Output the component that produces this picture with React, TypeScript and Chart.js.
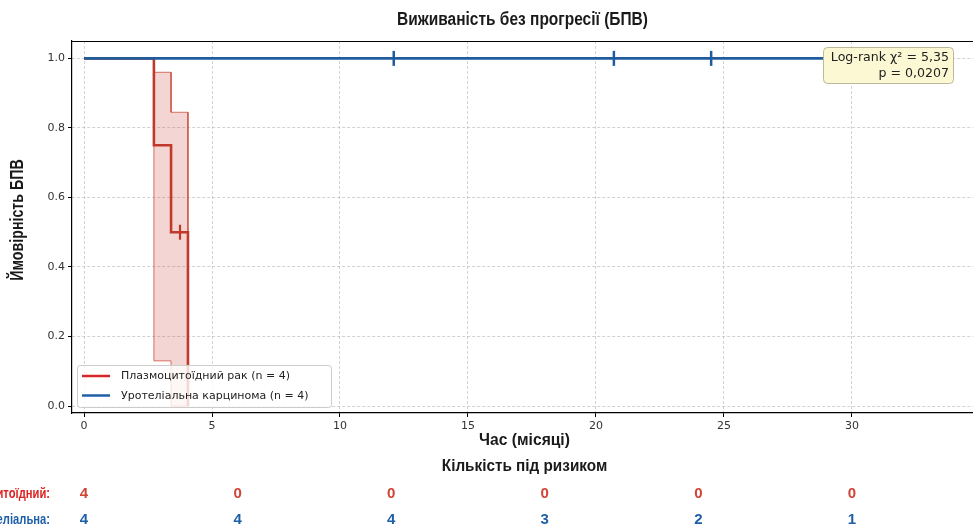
import { useEffect, useRef } from "react";
import { Chart, registerables } from "chart.js";
Chart.register(...registerables);

// ---------- text ----------
const TITLE = "Виживаність без прогресії (БПВ)";
const X_LABEL = "Час (місяці)";
const Y_LABEL = "Ймовірність БПВ";
const RISK_TITLE = "Кількість під ризиком";
const groupNames = ["Плазмоцитоїдний рак (n = 4)", "Уротеліальна карцинома (n = 4)"];
const riskLabels = ["Плазмоцитоїдний:", "Уротеліальна:"];
const logRankText = ["Log-rank χ² = 5,35", "p = 0,0207"];

// ---------- Kaplan-Meier: plasmacytoid ----------
const plasmaTimes = [0, 2.73, 3.4, 4.06];
const plasmaSurv = [1.0, 0.75, 0.5, 0.0];
const plasmaCensorTimes = [3.75];
const plasmaCensorSurv = [0.5];
// confidence band: boundaries and values on each interval
const plasmaCiTimes = [2.73, 3.4, 4.06];
const plasmaCiUpper = [0.96, 0.845];
const plasmaCiLower = [0.13, 0.0];

// ---------- Kaplan-Meier: urothelial ----------
const uroTimes = [0, 32.0];
const uroSurv = [1.0, 1.0];
const uroCensorTimes = [12.1, 20.7, 24.5];
const uroCensorSurv = [1.0, 1.0, 1.0];

// ---------- number at risk ----------
const riskTimes = [0, 6, 12, 18, 24, 30];
const riskPlasma = [4, 0, 0, 0, 0, 0];
const riskUro = [4, 4, 4, 3, 2, 1];

// ---------- axes ----------
const xTicks = [0, 5, 10, 15, 20, 25, 30];
const yTicks = [0, 0.2, 0.4, 0.6, 0.8, 1.0];
const X_MIN = -0.47;
const X_MAX = 34.73;
const Y_MIN = -0.02;
const Y_MAX = 1.05;

const RED = "#c0392b";
const RED_LEGEND = "#d62728";
const RED_LABEL = "#dd2222";
const RED_NUM = "#cf4434";
const BLUE = "#1f5c9e";
const BLUE_LEGEND = "#1f5fa8";
const NARROW = '"Liberation Sans Narrow", "Liberation Sans", sans-serif';
const SANS = '"DejaVu Sans", sans-serif';

function pts(xs: number[], ys: number[]) {
  return xs.map((x, i) => ({ x, y: ys[i] }));
}

function bandPolygon(ts: number[], up: number[], lo: number[]) {
  const upper: { x: number; y: number }[] = [];
  const lower: { x: number; y: number }[] = [];
  for (let i = 0; i < up.length; i++) {
    upper.push({ x: ts[i], y: up[i] }, { x: ts[i + 1], y: up[i] });
    lower.push({ x: ts[i], y: lo[i] }, { x: ts[i + 1], y: lo[i] });
  }
  const poly = [...upper, ...lower.reverse()];
  poly.push(upper[0]);
  return poly;
}

function roundRect(ctx: CanvasRenderingContext2D, x: number, y: number, w: number, h: number, r: number) {
  ctx.beginPath();
  ctx.moveTo(x + r, y);
  ctx.lineTo(x + w - r, y);
  ctx.arcTo(x + w, y, x + w, y + r, r);
  ctx.lineTo(x + w, y + h - r);
  ctx.arcTo(x + w, y + h, x + w - r, y + h, r);
  ctx.lineTo(x + r, y + h);
  ctx.arcTo(x, y + h, x, y + h - r, r);
  ctx.lineTo(x, y + r);
  ctx.arcTo(x, y, x + r, y, r);
  ctx.closePath();
}

function condensedText(
  ctx: CanvasRenderingContext2D,
  text: string,
  x: number,
  y: number,
  sx: number,
  rot = 0
) {
  ctx.save();
  ctx.translate(x, y);
  if (rot) ctx.rotate(rot);
  ctx.scale(sx, 1);
  ctx.fillText(text, 0, 0);
  ctx.restore();
}

const decorPlugin = {
  id: "decor",
  beforeDraw(chart: any) {
    const ctx = chart.ctx as CanvasRenderingContext2D;
    ctx.save();
    ctx.fillStyle = "#ffffff";
    ctx.fillRect(0, 0, chart.width, chart.height);
    ctx.restore();
  },
  afterDraw(chart: any) {
    const ctx = chart.ctx as CanvasRenderingContext2D;
    const a = chart.chartArea;
    const xs = chart.scales.x;
    const cx = (a.left + a.right) / 2;
    ctx.save();
    // top spine
    ctx.strokeStyle = "#000";
    ctx.lineWidth = 1.2;
    ctx.beginPath();
    ctx.moveTo(a.left, a.top + 0.5);
    ctx.lineTo(a.right, a.top + 0.5);
    ctx.stroke();

    // title
    ctx.fillStyle = "#1a1a1a";
    ctx.textAlign = "center";
    ctx.textBaseline = "middle";
    ctx.font = `bold 18px ${NARROW}`;
    condensedText(ctx, TITLE, cx, 20, 0.86);
    // x label + risk title
    ctx.font = `bold 17px ${NARROW}`;
    condensedText(ctx, X_LABEL, cx + 2, 440, 0.92);
    condensedText(ctx, RISK_TITLE, cx + 2, 466, 0.9);
    // y label
    ctx.font = `bold 18px ${NARROW}`;
    condensedText(ctx, Y_LABEL, 18, 220, 0.79, -Math.PI / 2);

    // legend
    const lx = 77.5, ly = 365.5, lw = 254, lh = 42;
    ctx.fillStyle = "rgba(255,255,255,0.8)";
    ctx.strokeStyle = "#cccccc";
    ctx.lineWidth = 1;
    roundRect(ctx, lx, ly, lw, lh, 3);
    ctx.fill();
    ctx.stroke();
    const legendColors = [RED_LEGEND, BLUE_LEGEND];
    ctx.font = `11px ${SANS}`;
    ctx.textAlign = "left";
    groupNames.forEach((name, i) => {
      const yy = 376 + i * 19.5;
      ctx.strokeStyle = legendColors[i];
      ctx.lineWidth = 2.5;
      ctx.beginPath();
      ctx.moveTo(82, yy);
      ctx.lineTo(110, yy);
      ctx.stroke();
      ctx.fillStyle = "#222";
      ctx.fillText(name, 121, yy + 0.5);
    });

    // log-rank annotation
    ctx.fillStyle = "#fcf8d4";
    ctx.strokeStyle = "#bdb89a";
    ctx.lineWidth = 1;
    roundRect(ctx, 823.5, 47.5, 130, 36, 4);
    ctx.fill();
    ctx.stroke();
    ctx.fillStyle = "#222";
    ctx.font = `12.6px ${SANS}`;
    ctx.textAlign = "right";
    ctx.fillText(logRankText[0], 949, 57.5);
    ctx.fillText(logRankText[1], 949, 73.5);

    // risk table
    const rows = [
      { label: riskLabels[0], values: riskPlasma, lc: RED_LABEL, nc: RED_NUM, y: 494 },
      { label: riskLabels[1], values: riskUro, lc: BLUE_LEGEND, nc: BLUE_LEGEND, y: 520 },
    ];
    rows.forEach((r) => {
      ctx.font = `bold 14px ${NARROW}`;
      ctx.textAlign = "right";
      ctx.fillStyle = r.lc;
      condensedText(ctx, r.label, 50, r.y, 0.8);
      ctx.font = `bold 15px ${NARROW}`;
      ctx.textAlign = "center";
      ctx.fillStyle = r.nc;
      riskTimes.forEach((t, i) => {
        ctx.fillText(String(r.values[i]), xs.getPixelForValue(t), r.y);
      });
    });
    ctx.restore();
  },
};

export default function App() {
  const ref = useRef<HTMLCanvasElement>(null);
  useEffect(() => {
    document.body.style.margin = "0";
    const canvas = ref.current!;
    const chart = new Chart(canvas, {
      type: "line",
      data: {
        datasets: [
          {
            label: "uroCensor",
            data: pts(uroCensorTimes, uroCensorSurv),
            showLine: false,
            pointStyle: "line",
            rotation: 90,
            pointRadius: 7.5,
            pointBorderWidth: 2.5,
            pointBorderColor: BLUE,
            pointBackgroundColor: BLUE,
            borderColor: BLUE,
            order: 0,
          } as any,
          {
            label: groupNames[1],
            data: pts(uroTimes, uroSurv),
            stepped: "before",
            borderColor: BLUE,
            borderWidth: 2.6,
            pointRadius: 0,
            fill: false,
            order: 1,
          } as any,
          {
            label: "plasmaCensor",
            data: pts(plasmaCensorTimes, plasmaCensorSurv),
            showLine: false,
            pointStyle: "line",
            rotation: 90,
            pointRadius: 7.5,
            pointBorderWidth: 2.2,
            pointBorderColor: RED,
            pointBackgroundColor: RED,
            borderColor: RED,
            order: 2,
          } as any,
          {
            label: groupNames[0],
            data: pts(plasmaTimes, plasmaSurv),
            stepped: "before",
            borderColor: RED,
            borderWidth: 2.6,
            pointRadius: 0,
            fill: false,
            order: 3,
          } as any,
          {
            label: "plasmaCI",
            data: bandPolygon(plasmaCiTimes, plasmaCiUpper, plasmaCiLower),
            borderColor: "rgba(205,70,55,0.75)",
            backgroundColor: "rgba(200,70,55,0.22)",
            borderWidth: 1,
            pointRadius: 0,
            fill: "shape",
            order: 4,
          } as any,
        ],
      },
      options: {
        animation: false,
        responsive: false,
        events: [],
        layout: { autoPadding: false, padding: { top: 41, left: 0, right: 0, bottom: 0 } },
        plugins: { legend: { display: false }, tooltip: { enabled: false } },
        scales: {
          x: {
            type: "linear",
            min: X_MIN,
            max: X_MAX,
            afterBuildTicks: (s: any) => {
              s.ticks = xTicks.map((v) => ({ value: v }));
            },
            afterFit: (s: any) => {
              s.height = 114;
            },
            ticks: {
              font: { family: "DejaVu Sans", size: 11 },
              color: "#333",
              padding: 3,
              maxRotation: 0,
              autoSkip: false,
              callback: (v: any) => String(v),
            },
            grid: {
              color: "rgba(175,175,175,0.7)",
              lineWidth: 0.8,
              tickColor: "#000",
              tickLength: 4,
              tickWidth: 1,
              tickBorderDash: [],
            },
            border: { color: "#000", width: 1.2, dash: [3, 2] },
          },
          y: {
            type: "linear",
            min: Y_MIN,
            max: Y_MAX,
            afterBuildTicks: (s: any) => {
              s.ticks = yTicks.map((v) => ({ value: v }));
            },
            afterFit: (s: any) => {
              s.width = 72;
            },
            ticks: {
              font: { family: "DejaVu Sans", size: 11 },
              color: "#333",
              padding: 3,
              autoSkip: false,
              callback: (v: any) => Number(v).toFixed(1),
            },
            grid: {
              color: "rgba(175,175,175,0.7)",
              lineWidth: 0.8,
              tickColor: "#000",
              tickLength: 4,
              tickWidth: 1,
              tickBorderDash: [],
            },
            border: { color: "#000", width: 1.2, dash: [3, 2] },
          },
        },
      } as any,
      plugins: [decorPlugin],
    });
    return () => chart.destroy();
  }, []);
  return (
    <div style={{ width: 973, height: 527 }}>
      <canvas ref={ref} width={973} height={527} />
    </div>
  );
}
